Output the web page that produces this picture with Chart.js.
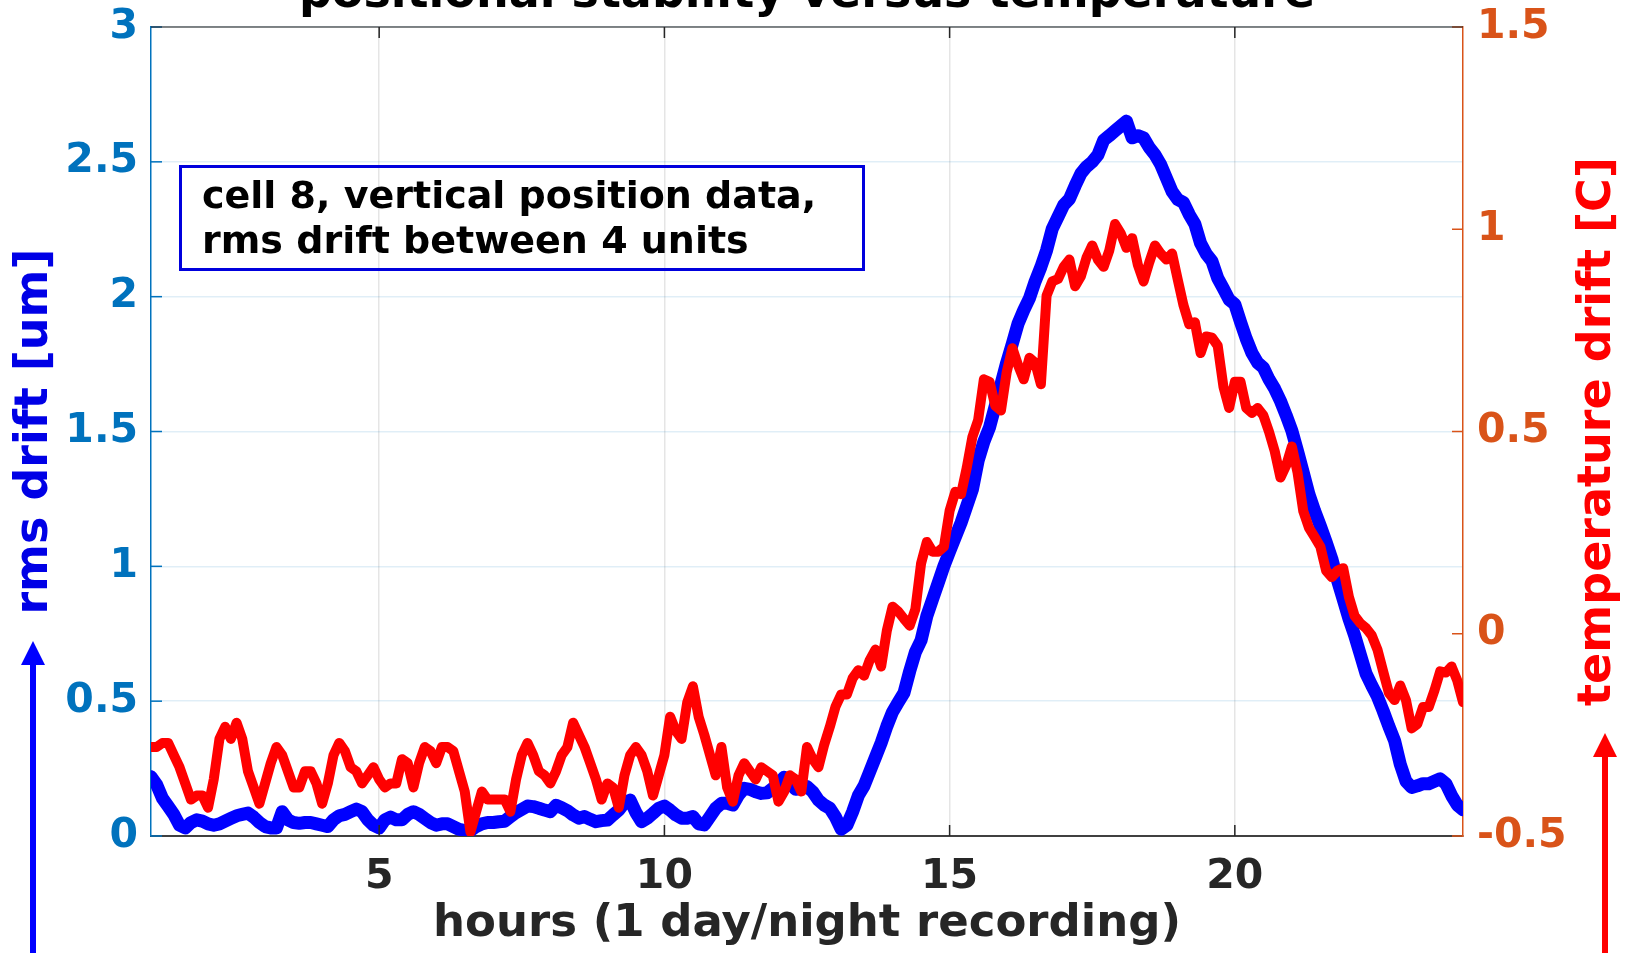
<!DOCTYPE html>
<html>
<head>
<meta charset="utf-8">
<script src="https://cdn.jsdelivr.net/npm/chart.js@4.4.1/dist/chart.umd.min.js"></script>
<style>
  html, body { margin: 0; padding: 0; background: #fff; }
  #wrap { width: 1629px; height: 953px; position: relative; }
</style>
</head>
<body>
<div id="wrap"><canvas id="driftChart"></canvas></div>
<script>
// time axis, hours since start of recording (0.1 h sampling)
const hours = [
  1.0, 1.1, 1.2, 1.3, 1.4, 1.5, 1.6, 1.7, 1.8, 1.9,
  2.0, 2.1, 2.2, 2.3, 2.4, 2.5, 2.6, 2.7, 2.8, 2.9,
  3.0, 3.1, 3.2, 3.3, 3.4, 3.5, 3.6, 3.7, 3.8, 3.9,
  4.0, 4.1, 4.2, 4.3, 4.4, 4.5, 4.6, 4.7, 4.8, 4.9,
  5.0, 5.1, 5.2, 5.3, 5.4, 5.5, 5.6, 5.7, 5.8, 5.9,
  6.0, 6.1, 6.2, 6.3, 6.4, 6.5, 6.6, 6.7, 6.8, 6.9,
  7.0, 7.1, 7.2, 7.3, 7.4, 7.5, 7.6, 7.7, 7.8, 7.9,
  8.0, 8.1, 8.2, 8.3, 8.4, 8.5, 8.6, 8.7, 8.8, 8.9,
  9.0, 9.1, 9.2, 9.3, 9.4, 9.5, 9.6, 9.7, 9.8, 9.9,
  10.0, 10.1, 10.2, 10.3, 10.4, 10.5, 10.6, 10.7, 10.8, 10.9,
  11.0, 11.1, 11.2, 11.3, 11.4, 11.5, 11.6, 11.7, 11.8, 11.9,
  12.0, 12.1, 12.2, 12.3, 12.4, 12.5, 12.6, 12.7, 12.8, 12.9,
  13.0, 13.1, 13.2, 13.3, 13.4, 13.5, 13.6, 13.7, 13.8, 13.9,
  14.0, 14.1, 14.2, 14.3, 14.4, 14.5, 14.6, 14.7, 14.8, 14.9,
  15.0, 15.1, 15.2, 15.3, 15.4, 15.5, 15.6, 15.7, 15.8, 15.9,
  16.0, 16.1, 16.2, 16.3, 16.4, 16.5, 16.6, 16.7, 16.8, 16.9,
  17.0, 17.1, 17.2, 17.3, 17.4, 17.5, 17.6, 17.7, 17.8, 17.9,
  18.0, 18.1, 18.2, 18.3, 18.4, 18.5, 18.6, 18.7, 18.8, 18.9,
  19.0, 19.1, 19.2, 19.3, 19.4, 19.5, 19.6, 19.7, 19.8, 19.9,
  20.0, 20.1, 20.2, 20.3, 20.4, 20.5, 20.6, 20.7, 20.8, 20.9,
  21.0, 21.1, 21.2, 21.3, 21.4, 21.5, 21.6, 21.7, 21.8, 21.9,
  22.0, 22.1, 22.2, 22.3, 22.4, 22.5, 22.6, 22.7, 22.8, 22.9,
  23.0, 23.1, 23.2, 23.3, 23.4, 23.5, 23.6, 23.7, 23.8, 23.9,
  24.0
];

// rms drift between the 4 units [um]
const rmsDrift = [
  0.22, 0.19, 0.14, 0.11, 0.08, 0.04, 0.03, 0.05, 0.06, 0.055,
  0.045, 0.04, 0.045, 0.055, 0.065, 0.075, 0.08, 0.085, 0.07, 0.05,
  0.035, 0.03, 0.03, 0.09, 0.06, 0.05, 0.047, 0.05, 0.05, 0.045,
  0.04, 0.035, 0.06, 0.075, 0.08, 0.09, 0.10, 0.09, 0.06, 0.04,
  0.03, 0.06, 0.07, 0.06, 0.06, 0.08, 0.09, 0.08, 0.065, 0.05,
  0.04, 0.045, 0.045, 0.035, 0.025, 0.02, 0.02, 0.035, 0.045, 0.05,
  0.05, 0.053, 0.055, 0.072, 0.087, 0.099, 0.111, 0.109, 0.103, 0.096,
  0.09, 0.114, 0.105, 0.094, 0.078, 0.066, 0.072, 0.062, 0.053, 0.057,
  0.059, 0.078, 0.096, 0.124, 0.133, 0.087, 0.053, 0.066, 0.084, 0.103,
  0.111, 0.096, 0.078, 0.066, 0.066, 0.072, 0.045, 0.041, 0.072, 0.103,
  0.121, 0.121, 0.115, 0.152, 0.177, 0.173, 0.164, 0.158, 0.16, 0.177,
  0.195, 0.218, 0.195, 0.173, 0.177, 0.183, 0.164, 0.133, 0.115, 0.103,
  0.07, 0.025, 0.04, 0.09, 0.15, 0.186, 0.239, 0.292, 0.345, 0.407,
  0.46, 0.496, 0.531, 0.611, 0.682, 0.726, 0.815, 0.877, 0.939, 1.001,
  1.055, 1.108, 1.161, 1.223, 1.285, 1.392, 1.462, 1.515, 1.595, 1.675,
  1.755, 1.826, 1.9, 1.95, 1.994, 2.057, 2.11, 2.172, 2.252, 2.296,
  2.34, 2.362, 2.411, 2.456, 2.482, 2.5, 2.526, 2.58, 2.597, 2.615,
  2.633, 2.651, 2.589, 2.597, 2.589, 2.553, 2.526, 2.49, 2.44, 2.39,
  2.36, 2.349, 2.305, 2.269, 2.198, 2.158, 2.131, 2.069, 2.03, 1.989,
  1.972, 1.906, 1.844, 1.791, 1.755, 1.737, 1.693, 1.658, 1.613, 1.56,
  1.503, 1.427, 1.347, 1.267, 1.205, 1.149, 1.09, 1.028, 0.948, 0.877,
  0.806, 0.744, 0.673, 0.602, 0.558, 0.517, 0.464, 0.407, 0.354, 0.266,
  0.203, 0.18, 0.186, 0.194, 0.194, 0.203, 0.212, 0.194, 0.15, 0.115,
  0.097
];

// temperature drift [C]
const tempDrift = [
  -0.28, -0.28, -0.27, -0.27, -0.30, -0.33, -0.37, -0.41, -0.40, -0.40,
  -0.43, -0.36, -0.26, -0.23, -0.26, -0.22, -0.26, -0.34, -0.38, -0.42,
  -0.37, -0.32, -0.28, -0.30, -0.34, -0.38, -0.38, -0.34, -0.34, -0.37,
  -0.42, -0.37, -0.30, -0.27, -0.29, -0.33, -0.34, -0.37, -0.35, -0.33,
  -0.36, -0.38, -0.37, -0.37, -0.31, -0.32, -0.38, -0.32, -0.28, -0.29,
  -0.32, -0.28, -0.28, -0.29, -0.34, -0.39, -0.49, -0.44, -0.39, -0.41,
  -0.41, -0.41, -0.41, -0.44, -0.36, -0.30, -0.27, -0.30, -0.34, -0.35,
  -0.37, -0.34, -0.30, -0.28, -0.22, -0.25, -0.28, -0.32, -0.36, -0.41,
  -0.37, -0.38, -0.43, -0.35, -0.30, -0.28, -0.30, -0.34, -0.40, -0.35,
  -0.30, -0.205, -0.24, -0.26, -0.17, -0.13, -0.205, -0.25, -0.30, -0.35,
  -0.28, -0.38, -0.415, -0.35, -0.32, -0.34, -0.36, -0.33, -0.34, -0.35,
  -0.415, -0.39, -0.35, -0.36, -0.39, -0.28, -0.31, -0.33, -0.275, -0.23,
  -0.18, -0.15, -0.15, -0.11, -0.09, -0.104, -0.065, -0.039, -0.081, 0.008,
  0.067, 0.055, 0.037, 0.02, 0.061, 0.174, 0.227, 0.203, 0.203, 0.215,
  0.304, 0.351, 0.345, 0.41, 0.487, 0.528, 0.629, 0.623, 0.564, 0.552,
  0.646, 0.706, 0.664, 0.629, 0.682, 0.67, 0.617, 0.836, 0.871, 0.877,
  0.907, 0.925, 0.859, 0.883, 0.93, 0.96, 0.925, 0.907, 0.948, 1.013,
  0.99, 0.954, 0.978, 0.912, 0.871, 0.918, 0.96, 0.94, 0.925, 0.94,
  0.875, 0.812, 0.765, 0.77, 0.694, 0.735, 0.732, 0.712, 0.611, 0.558,
  0.623, 0.623, 0.558, 0.546, 0.558, 0.54, 0.499, 0.451, 0.386, 0.416,
  0.463, 0.398, 0.303, 0.262, 0.239, 0.215, 0.156, 0.14, 0.156, 0.162,
  0.091, 0.044, 0.026, 0.014, -0.004, -0.039, -0.093, -0.146, -0.164, -0.128,
  -0.164, -0.234, -0.223, -0.181, -0.181, -0.14, -0.093, -0.096, -0.081, -0.116,
  -0.169
];

const xTicks = [5, 10, 15, 20];
const rmsTicks = [0, 0.5, 1, 1.5, 2, 2.5, 3];
const tempTicks = [-0.5, 0, 0.5, 1, 1.5];

const FONT = "'DejaVu Sans', sans-serif";
const LEFT_COLOR = '#0072BD';
const RIGHT_COLOR = '#D95319';
const AXIS_DARK = '#262626';

function pinTicks(values) {
  return (scale) => { scale.ticks = values.map(v => ({ value: v })); };
}

// fixed axis box size, and no extra room reserved for half-labels
function fixSize(prop, size) {
  return (scale) => {
    scale[prop] = size;
    scale.paddingTop = 0;
    scale.paddingBottom = 0;
    scale.paddingLeft = 0;
    scale.paddingRight = 0;
  };
}

// title (partly off the top), axis labels, arrows, note box, inward tick marks
const decorations = {
  id: 'decorations',
  afterDatasetsDraw(chart) {
    const { ctx, chartArea: a, scales } = chart;
    ctx.save();
    ctx.lineWidth = 1.5;
    ctx.strokeStyle = AXIS_DARK;
    xTicks.forEach(v => {
      const px = scales.x.getPixelForValue(v);
      ctx.beginPath();
      ctx.moveTo(px, a.bottom); ctx.lineTo(px, a.bottom - 11);
      ctx.moveTo(px, a.top); ctx.lineTo(px, a.top + 11);
      ctx.stroke();
    });
    ctx.strokeStyle = LEFT_COLOR;
    rmsTicks.forEach(v => {
      const py = scales.y.getPixelForValue(v);
      ctx.beginPath(); ctx.moveTo(a.left, py); ctx.lineTo(a.left + 11, py); ctx.stroke();
    });
    ctx.strokeStyle = RIGHT_COLOR;
    tempTicks.forEach(v => {
      const py = scales.y1.getPixelForValue(v);
      ctx.beginPath(); ctx.moveTo(a.right, py); ctx.lineTo(a.right - 11, py); ctx.stroke();
    });
    // top frame line
    ctx.strokeStyle = 'rgba(38,38,38,0.55)';
    ctx.lineWidth = 2;
    ctx.beginPath(); ctx.moveTo(a.left, a.top); ctx.lineTo(a.right, a.top); ctx.stroke();
    ctx.restore();
  },
  afterDraw(chart) {
    const { ctx, chartArea: a } = chart;
    const midX = (a.left + a.right) / 2;
    const midY = (a.top + a.bottom) / 2;
    ctx.save();

    ctx.fillStyle = '#000';
    ctx.font = `bold 46px ${FONT}`;
    ctx.textAlign = 'center';
    ctx.textBaseline = 'alphabetic';
    ctx.fillText('positional stability versus temperature', midX, 7);

    ctx.textBaseline = 'middle';
    ctx.font = `bold 46px ${FONT}`;
    ctx.fillStyle = '#0000e6';
    ctx.save();
    ctx.translate(35, midY);
    ctx.rotate(-Math.PI / 2);
    ctx.fillText('rms drift [um]', 0, 0);
    ctx.restore();

    ctx.fillStyle = '#ff0000';
    ctx.save();
    ctx.translate(1598, midY);
    ctx.rotate(-Math.PI / 2);
    ctx.fillText('temperature drift [C]', 0, 0);
    ctx.restore();

    drawArrow(ctx, 33, 641, '#0000ff', chart.height);
    drawArrow(ctx, 1605, 733, '#ff0000', chart.height);

    // note box
    ctx.strokeStyle = '#0000dd';
    ctx.lineWidth = 3;
    ctx.strokeRect(180.5, 166.5, 683, 103);
    ctx.fillStyle = '#000';
    ctx.font = `bold 38px ${FONT}`;
    ctx.textAlign = 'left';
    ctx.textBaseline = 'alphabetic';
    ctx.fillText('cell 8, vertical position data,', 202, 208);
    ctx.fillText('rms drift between 4 units', 202, 253);
    ctx.restore();
  }
};

function drawArrow(ctx, x, tipY, color, bottom) {
  ctx.fillStyle = color;
  ctx.fillRect(x - 3, tipY + 20, 6, bottom - tipY - 20);
  ctx.beginPath();
  ctx.moveTo(x, tipY);
  ctx.lineTo(x + 12, tipY + 24);
  ctx.lineTo(x - 12, tipY + 24);
  ctx.closePath();
  ctx.fill();
}

new Chart(document.getElementById('driftChart'), {
  type: 'line',
  data: {
    labels: hours,
    datasets: [
      {
        label: 'temperature drift',
        data: tempDrift,
        yAxisID: 'y1',
        borderColor: '#ff0000',
        borderWidth: 10,
        pointRadius: 0,
        tension: 0,
        borderJoinStyle: 'round',
        borderCapStyle: 'round',
        clip: 0,
      },
      {
        label: 'rms drift',
        data: rmsDrift,
        yAxisID: 'y',
        borderColor: '#0000ff',
        borderWidth: 13,
        pointRadius: 0,
        tension: 0,
        borderJoinStyle: 'round',
        borderCapStyle: 'round',
        clip: 0,
      },
    ],
  },
  options: {
    responsive: true,
    maintainAspectRatio: false,
    animation: false,
    layout: { padding: { top: 27, left: 0, right: 0, bottom: 0 } },
    plugins: {
      legend: { display: false },
      tooltip: { enabled: false },
    },
    scales: {
      x: {
        type: 'linear',
        min: 1,
        max: 24,
        afterBuildTicks: pinTicks(xTicks),
        afterFit: fixSize('height', 117),
        grid: { color: 'rgba(38,38,38,0.12)', lineWidth: 1.5, drawTicks: false },
        border: { color: '#404040', width: 2 },
        ticks: {
          padding: 17,
          color: AXIS_DARK,
          font: { family: FONT, size: 41, weight: 'bold' },
          callback: (v) => String(v),
        },
        title: {
          display: true,
          text: 'hours (1 day/night recording)',
          color: AXIS_DARK,
          font: { family: FONT, size: 45, weight: 'bold' },
          padding: { top: 0, bottom: 2 },
        },
      },
      y: {
        position: 'left',
        min: 0,
        max: 3,
        afterBuildTicks: pinTicks(rmsTicks),
        afterFit: fixSize('width', 151),
        grid: { color: 'rgba(0,114,189,0.12)', lineWidth: 1.5, drawTicks: false },
        border: { color: LEFT_COLOR, width: 1.5 },
        ticks: {
          padding: 13,
          color: LEFT_COLOR,
          font: { family: FONT, size: 41, weight: 'bold' },
          callback: (v) => String(v),
        },
      },
      y1: {
        position: 'right',
        min: -0.5,
        max: 1.5,
        afterBuildTicks: pinTicks(tempTicks),
        afterFit: fixSize('width', 166),
        grid: { display: false, drawTicks: false },
        border: { color: RIGHT_COLOR, width: 1.5 },
        ticks: {
          padding: 14,
          color: RIGHT_COLOR,
          font: { family: FONT, size: 41, weight: 'bold' },
          callback: (v) => String(v),
        },
      },
    },
  },
  plugins: [decorations],
});
</script>
</body>
</html>
